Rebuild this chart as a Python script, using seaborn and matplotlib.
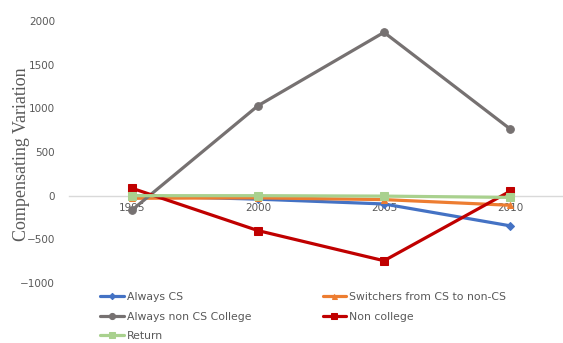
import matplotlib
matplotlib.use("Agg")
import matplotlib.pyplot as plt
import seaborn as sns
import pandas as pd

years = ["1995", "2000", "2005", "2010"]
always_cs = [0, -40, -95, -345]
switchers = [-30, -25, -45, -110]
always_non_cs = [-165, 1030, 1870, 765]
non_college = [85, -400, -745, 50]
returners = [0, 0, -5, -20]

series_names = ["Always CS", "Switchers from CS to non-CS",
                "Always non CS College", "Non college", "Return"]
series_values = [always_cs, switchers, always_non_cs, non_college, returners]
colors = ["#4472C4", "#ED7D31", "#767171", "#C00000", "#A9D18E"]
markers = ["D", "^", "o", "s", "s"]
msizes = [4, 4.5, 5.5, 5.5, 6]

rows = []
for name, vals in zip(series_names, series_values):
    for yr, v in zip(years, vals):
        rows.append({"Year": yr, "Series": name, "Value": v})
df = pd.DataFrame(rows)
df["x"] = df["Year"].map({y: i for i, y in enumerate(years)})

sns.set_theme(style="white")
fig = plt.figure(figsize=(5.63, 3.43), dpi=100)
ax = fig.add_axes([69 / 563, 1 - 283 / 343, 504 / 563, 262 / 343])

for name, c, m, ms in zip(series_names, colors, markers, msizes):
    sub = df[df["Series"] == name]
    sns.lineplot(data=sub, x="x", y="Value", ax=ax, color=c, marker=m,
                 markersize=ms, markeredgecolor=c, linewidth=2.3,
                 label=name, clip_on=False)

ax.set_xlim(-0.5, 3.5)
ax.set_ylim(-1000, 2000)
ax.set_yticks(range(-1000, 2001, 500))
ax.set_xticks(range(len(years)))
ax.set_xticklabels(years)
for s in ["top", "right", "left"]:
    ax.spines[s].set_visible(False)
ax.spines["bottom"].set_position(("data", 0))
ax.spines["bottom"].set_color("#D9D9D9")
ax.spines["bottom"].set_linewidth(1.0)
ax.spines["bottom"].set_zorder(0.5)
ax.tick_params(axis="both", length=0, labelsize=7.5, labelcolor="#595959")
ax.tick_params(axis="y", pad=10)
ax.tick_params(axis="x", pad=5)
ax.set_xlabel("")
ax.set_ylabel("Compensating Variation", family="Liberation Serif",
              fontsize=13, color="#595959")
ax.yaxis.set_label_coords(-39 / 504, 0.49)

# Legend laid out row by row: reorder handles for matplotlib's column fill
handles, labels = ax.get_legend_handles_labels()
ax.legend_.remove()
order = [0, 2, 4, 1, 3]
fig.legend([handles[i] for i in order], [labels[i] for i in order],
           loc="upper left", bbox_to_anchor=(100 / 563, 1 - 292 / 343),
           ncol=2, frameon=False, fontsize=7.8, labelcolor="#595959",
           handlelength=2.2, handletextpad=0.25, columnspacing=6.6,
           labelspacing=0.88, borderaxespad=0, borderpad=0, markerscale=0.8)

fig.savefig("out.png", dpi=100)
